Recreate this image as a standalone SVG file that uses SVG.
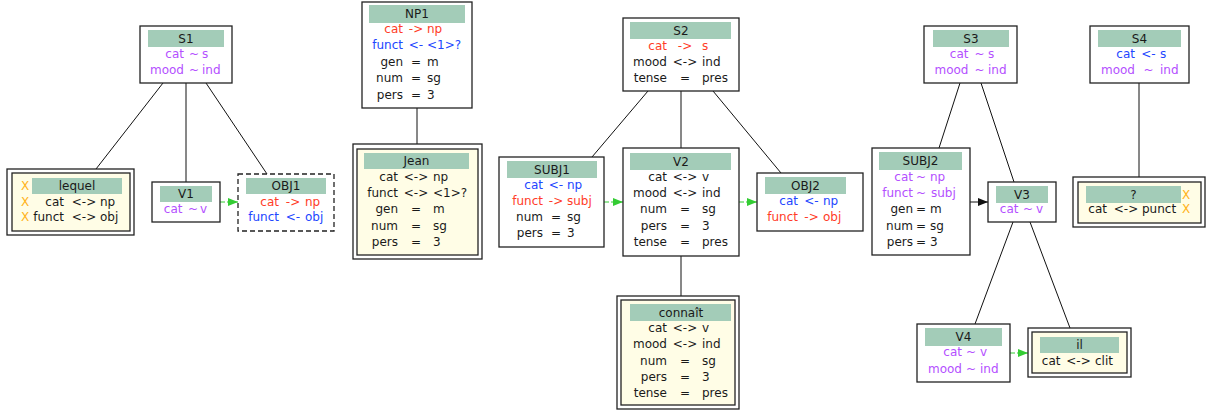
<svg xmlns="http://www.w3.org/2000/svg" width="1210" height="412" viewBox="0 0 1210 412">
<style>
text{font-family:"DejaVu Sans","Liberation Sans",sans-serif;font-size:12px;fill:#1a1a1a}
.a{text-anchor:end}.o{text-anchor:middle}.v{text-anchor:start}.c{text-anchor:middle}
.p{fill:#b44fff}.r{fill:#ff3c28}.b{fill:#2246ff}.x{fill:#ffb31a}
.box{fill:#fff;stroke:#222;stroke-width:1.3}
.dash{fill:#fff;stroke:#222;stroke-width:1.3;stroke-dasharray:5,3}
.in{fill:#fffde6;stroke:#222;stroke-width:1.3}
.h{fill:#a3ccb8}
.e{stroke:#111;stroke-width:1;fill:none}
.g{stroke:#33cc33;stroke-width:1;stroke-dasharray:5,2;fill:none}
.k{stroke:#111;stroke-width:1;fill:none}
</style>
<defs>
<marker id="ag" markerUnits="userSpaceOnUse" markerWidth="11" markerHeight="9" refX="10" refY="4" orient="auto"><path d="M0,0 L10,4 L0,8 z" fill="#33cc33"/></marker>
<marker id="ak" markerUnits="userSpaceOnUse" markerWidth="11" markerHeight="9" refX="10" refY="4" orient="auto"><path d="M0,0 L10,4 L0,8 z" fill="#111"/></marker>
</defs>
<g id="connectors">
<line class="e" x1="163" y1="83" x2="96" y2="169"/>
<line class="e" x1="186" y1="83" x2="186" y2="182"/>
<line class="e" x1="206" y1="83" x2="267" y2="174"/>
<line class="e" x1="417" y1="108" x2="417" y2="144"/>
<line class="e" x1="648" y1="91" x2="592" y2="157"/>
<line class="e" x1="681" y1="91" x2="681" y2="148"/>
<line class="e" x1="713" y1="91" x2="781" y2="173"/>
<line class="e" x1="681" y1="256" x2="681" y2="296"/>
<line class="e" x1="960" y1="83" x2="939" y2="148"/>
<line class="e" x1="981" y1="83" x2="1014" y2="182"/>
<line class="e" x1="1139" y1="83" x2="1139" y2="177"/>
<line class="e" x1="1013" y1="222" x2="975" y2="324"/>
<line class="e" x1="1030" y1="222" x2="1070" y2="328"/>
<line class="g" x1="220" y1="202" x2="238" y2="202" marker-end="url(#ag)"/>
<line class="g" x1="604" y1="202" x2="623" y2="202" marker-end="url(#ag)"/>
<line class="g" x1="739" y1="202" x2="757" y2="202" marker-end="url(#ag)"/>
<line class="k" x1="970" y1="202" x2="988" y2="202" marker-end="url(#ak)"/>
<line class="g" x1="1010" y1="353" x2="1028" y2="353" marker-end="url(#ag)"/>
</g>
<g id="S1">
<rect class="box" x="140" y="26" width="92" height="57"/>
<rect class="h" x="148" y="30" width="76" height="17"/>
<text class="c" x="186" y="43">S1</text>
<text class="a p" x="184" y="58">cat</text><text class="o p" x="194" y="58">~</text><text class="v p" x="202" y="58">s</text>
<text class="a p" x="184" y="74">mood</text><text class="o p" x="194" y="74">~</text><text class="v p" x="202" y="74">ind</text>
</g>
<g id="lequel">
<rect class="box" x="7" y="169" width="127" height="66"/>
<rect class="in" x="12" y="173" width="118" height="58"/>
<rect class="h" x="32" y="178" width="90" height="16"/>
<text class="c" x="77" y="190">lequel</text>
<text class="v x" x="21" y="190">X</text><text class="v x" x="21" y="206">X</text><text class="v x" x="21" y="221">X</text>
<text class="a" x="64" y="206">cat</text><text class="o" x="84" y="206">&lt;-&gt;</text><text class="v" x="100" y="206">np</text>
<text class="a" x="64" y="221">funct</text><text class="o" x="84" y="221">&lt;-&gt;</text><text class="v" x="100" y="221">obj</text>
</g>
<g id="V1">
<rect class="box" x="152" y="182" width="68" height="40"/>
<rect class="h" x="160" y="186" width="52" height="16"/>
<text class="c" x="186" y="198">V1</text>
<text class="a p" x="182.5" y="213">cat</text><text class="o p" x="193" y="213">~</text><text class="v p" x="200" y="213">v</text>
</g>
<g id="OBJ1">
<rect class="dash" x="238" y="174" width="96" height="57"/>
<rect class="h" x="246" y="178" width="80" height="16"/>
<text class="c" x="286" y="190">OBJ1</text>
<text class="a r" x="279" y="206">cat</text><text class="o r" x="293" y="206">-&gt;</text><text class="v r" x="305" y="206">np</text>
<text class="a b" x="279" y="221">funct</text><text class="o b" x="293" y="221">&lt;-</text><text class="v b" x="305" y="221">obj</text>
</g>
<g id="NP1">
<rect class="box" x="362" y="2" width="110" height="106"/>
<rect class="h" x="369" y="5" width="96" height="18"/>
<text class="c" x="417" y="18">NP1</text>
<text class="a r" x="403" y="33">cat</text><text class="o r" x="416" y="33">-&gt;</text><text class="v r" x="427" y="33">np</text>
<text class="a b" x="403" y="49">funct</text><text class="o b" x="416" y="49">&lt;-</text><text class="v b" x="427" y="49">&lt;1&gt;?</text>
<text class="a" x="403" y="66">gen</text><text class="o" x="416" y="66">=</text><text class="v" x="427" y="66">m</text>
<text class="a" x="403" y="82">num</text><text class="o" x="416" y="82">=</text><text class="v" x="427" y="82">sg</text>
<text class="a" x="403" y="99">pers</text><text class="o" x="416" y="99">=</text><text class="v" x="427" y="99">3</text>
</g>
<g id="Jean">
<rect class="box" x="353" y="144" width="129" height="115"/>
<rect class="in" x="357" y="149" width="121" height="106"/>
<rect class="h" x="364" y="153" width="105" height="16"/>
<text class="c" x="416.5" y="165">Jean</text>
<text class="a" x="398" y="181">cat</text><text class="o" x="416" y="181">&lt;-&gt;</text><text class="v" x="433" y="181">np</text>
<text class="a" x="398" y="197">funct</text><text class="o" x="416" y="197">&lt;-&gt;</text><text class="v" x="433" y="197">&lt;1&gt;?</text>
<text class="a" x="398" y="213">gen</text><text class="o" x="416" y="213">=</text><text class="v" x="433" y="213">m</text>
<text class="a" x="398" y="230">num</text><text class="o" x="416" y="230">=</text><text class="v" x="433" y="230">sg</text>
<text class="a" x="398" y="246">pers</text><text class="o" x="416" y="246">=</text><text class="v" x="433" y="246">3</text>
</g>
<g id="S2">
<rect class="box" x="623" y="18" width="116" height="73"/>
<rect class="h" x="630" y="22" width="101" height="17"/>
<text class="c" x="681" y="35">S2</text>
<text class="a r" x="667" y="50">cat</text><text class="o r" x="685" y="50">-&gt;</text><text class="v r" x="702" y="50">s</text>
<text class="a" x="667" y="66">mood</text><text class="o" x="685" y="66">&lt;-&gt;</text><text class="v" x="702" y="66">ind</text>
<text class="a" x="667" y="82">tense</text><text class="o" x="685" y="82">=</text><text class="v" x="702" y="82">pres</text>
</g>
<g id="SUBJ1">
<rect class="box" x="499" y="157" width="105" height="90"/>
<rect class="h" x="507" y="161" width="90" height="17"/>
<text class="c" x="552" y="174">SUBJ1</text>
<text class="a b" x="543" y="189">cat</text><text class="o b" x="556" y="189">&lt;-</text><text class="v b" x="567" y="189">np</text>
<text class="a r" x="543" y="205">funct</text><text class="o r" x="556" y="205">-&gt;</text><text class="v r" x="567" y="205">subj</text>
<text class="a" x="543" y="221">num</text><text class="o" x="556" y="221">=</text><text class="v" x="567" y="221">sg</text>
<text class="a" x="543" y="237">pers</text><text class="o" x="556" y="237">=</text><text class="v" x="567" y="237">3</text>
</g>
<g id="V2">
<rect class="box" x="623" y="148" width="116" height="108"/>
<rect class="h" x="630" y="153" width="101" height="17"/>
<text class="c" x="681" y="166">V2</text>
<text class="a" x="667" y="181">cat</text><text class="o" x="685" y="181">&lt;-&gt;</text><text class="v" x="702" y="181">v</text>
<text class="a" x="667" y="197">mood</text><text class="o" x="685" y="197">&lt;-&gt;</text><text class="v" x="702" y="197">ind</text>
<text class="a" x="667" y="213">num</text><text class="o" x="685" y="213">=</text><text class="v" x="702" y="213">sg</text>
<text class="a" x="667" y="230">pers</text><text class="o" x="685" y="230">=</text><text class="v" x="702" y="230">3</text>
<text class="a" x="667" y="246">tense</text><text class="o" x="685" y="246">=</text><text class="v" x="702" y="246">pres</text>
</g>
<g id="OBJ2">
<rect class="box" x="757" y="173" width="106" height="58"/>
<rect class="h" x="765" y="177" width="81" height="17"/>
<text class="c" x="805.5" y="190">OBJ2</text>
<text class="a b" x="798" y="205">cat</text><text class="o b" x="811.5" y="205">&lt;-</text><text class="v b" x="823" y="205">np</text>
<text class="a r" x="798" y="221">funct</text><text class="o r" x="811.5" y="221">-&gt;</text><text class="v r" x="823" y="221">obj</text>
</g>
<g id="connait">
<rect class="box" x="617" y="296" width="122" height="113"/>
<rect class="in" x="621" y="300" width="114" height="105"/>
<rect class="h" x="630" y="304" width="101" height="17"/>
<text class="c" x="681" y="317">connaît</text>
<text class="a" x="667" y="332">cat</text><text class="o" x="685" y="332">&lt;-&gt;</text><text class="v" x="702" y="332">v</text>
<text class="a" x="667" y="348">mood</text><text class="o" x="685" y="348">&lt;-&gt;</text><text class="v" x="702" y="348">ind</text>
<text class="a" x="667" y="365">num</text><text class="o" x="685" y="365">=</text><text class="v" x="702" y="365">sg</text>
<text class="a" x="667" y="381">pers</text><text class="o" x="685" y="381">=</text><text class="v" x="702" y="381">3</text>
<text class="a" x="667" y="397">tense</text><text class="o" x="685" y="397">=</text><text class="v" x="702" y="397">pres</text>
</g>
<g id="S3">
<rect class="box" x="924" y="26" width="93" height="57"/>
<rect class="h" x="933" y="30" width="76" height="17"/>
<text class="c" x="971" y="43">S3</text>
<text class="a p" x="968.5" y="58">cat</text><text class="o p" x="979.5" y="58">~</text><text class="v p" x="988" y="58">s</text>
<text class="a p" x="968.5" y="74">mood</text><text class="o p" x="979.5" y="74">~</text><text class="v p" x="988" y="74">ind</text>
</g>
<g id="S4">
<rect class="box" x="1090" y="26" width="99" height="57"/>
<rect class="h" x="1098" y="30" width="83" height="17"/>
<text class="c" x="1139.5" y="43">S4</text>
<text class="a b" x="1135" y="58">cat</text><text class="o b" x="1148.5" y="58">&lt;-</text><text class="v b" x="1160" y="58">s</text>
<text class="a p" x="1135" y="74">mood</text><text class="o p" x="1148.5" y="74">~</text><text class="v p" x="1160" y="74">ind</text>
</g>
<g id="SUBJ2">
<rect class="box" x="872" y="148" width="98" height="107"/>
<rect class="h" x="879" y="152" width="83" height="18"/>
<text class="c" x="920.5" y="165">SUBJ2</text>
<text class="a p" x="913" y="181">cat</text><text class="o p" x="921" y="181">~</text><text class="v p" x="930" y="181">np</text>
<text class="a p" x="913" y="197">funct</text><text class="o p" x="921" y="197">~</text><text class="v p" x="931" y="197">subj</text>
<text class="a" x="913" y="213">gen</text><text class="o" x="921" y="213">=</text><text class="v" x="930" y="213">m</text>
<text class="a" x="913" y="230">num</text><text class="o" x="921" y="230">=</text><text class="v" x="930" y="230">sg</text>
<text class="a" x="913" y="246">pers</text><text class="o" x="921" y="246">=</text><text class="v" x="930" y="246">3</text>
</g>
<g id="V3">
<rect class="box" x="988" y="182" width="68" height="40"/>
<rect class="h" x="996" y="186" width="52" height="17"/>
<text class="c" x="1022" y="199">V3</text>
<text class="a p" x="1018.5" y="213">cat</text><text class="o p" x="1028" y="213">~</text><text class="v p" x="1036" y="213">v</text>
</g>
<g id="punct">
<rect class="box" x="1073" y="177" width="132" height="50"/>
<rect class="in" x="1078" y="182" width="123" height="41"/>
<rect class="h" x="1086" y="186" width="95" height="17"/>
<text class="c" x="1133.5" y="199">?</text>
<text class="v x" x="1182" y="199">X</text><text class="v x" x="1182" y="213">X</text>
<text class="a" x="1107" y="213">cat</text><text class="o" x="1126" y="213">&lt;-&gt;</text><text class="v" x="1142" y="213">punct</text>
</g>
<g id="V4">
<rect class="box" x="917" y="324" width="93" height="58"/>
<rect class="h" x="925" y="328" width="77" height="18"/>
<text class="c" x="963.5" y="341">V4</text>
<text class="a p" x="962" y="356">cat</text><text class="o p" x="971" y="356">~</text><text class="v p" x="980" y="356">v</text>
<text class="a p" x="962" y="373">mood</text><text class="o p" x="971" y="373">~</text><text class="v p" x="980" y="373">ind</text>
</g>
<g id="il">
<rect class="box" x="1028" y="328" width="103" height="49"/>
<rect class="in" x="1032" y="332" width="95" height="41"/>
<rect class="h" x="1040" y="337" width="79" height="16"/>
<text class="c" x="1079.5" y="349">il</text>
<text class="a" x="1060.5" y="365">cat</text><text class="o" x="1078.5" y="365">&lt;-&gt;</text><text class="v" x="1095" y="365">clit</text>
</g>
</svg>
